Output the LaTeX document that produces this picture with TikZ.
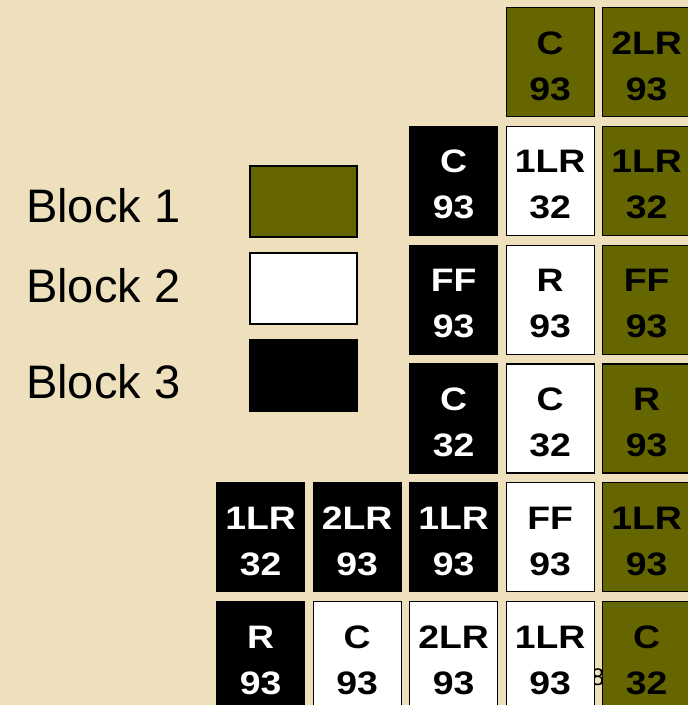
\documentclass[tikz,border=0pt]{standalone}
\usepackage{fontspec}
\setmainfont{Liberation Sans}
\newfontfamily\cellfont[FakeStretch=1.15]{Liberation Sans}
\definecolor{parchment}{RGB}{239,224,189}
\definecolor{blockolive}{RGB}{102,102,0}
\tikzset{
  cell/.style={minimum width=88pt,minimum height=109pt,inner sep=0pt,anchor=north west,line width=1.2pt,draw=black},
  block1/.style={cell,fill=blockolive},
  block2/.style={cell,fill=white},
  block3/.style={cell,fill=black},
  celltext/.style={font=\cellfont\bfseries\fontsize{32.5}{40}\selectfont,anchor=base,inner sep=0pt},
  txt1/.style={text=black},
  txt2/.style={text=black},
  txt3/.style={text=white},
  keybox/.style={minimum width=107pt,minimum height=71pt,inner sep=0pt,anchor=north west,line width=1.5pt,draw=black}
}
\begin{document}
\begin{tikzpicture}[x=1pt,y=-1pt]
  \useasboundingbox (0,0) rectangle (688,705);
  \fill[parchment] (0,0) rectangle (688,705);
  \clip (0,0) rectangle (688,705);
  \foreach \k/\ytop/\ybase/\col in {1/165/222/blockolive,2/252/302/white,3/339/398/black}{
    \node[anchor=base west,inner sep=0pt,font=\fontsize{47}{47}\selectfont] (label\k) at (26,\ybase) {Block \k};
    \node[keybox,fill=\col] (key\k) at (249,\ytop) {};
  }
  \node[anchor=base west,inner sep=0pt,font=\fontsize{24}{24}\selectfont] (slideno) at (591,685) {8};
  \foreach \c/\r/\kind/\top/\bot in {
      4/1/1/C/93, 5/1/1/2LR/93,
      3/2/3/C/93, 4/2/2/1LR/32, 5/2/1/1LR/32,
      3/3/3/FF/93, 4/3/2/R/93, 5/3/1/FF/93,
      3/4/3/C/32, 4/4/2/C/32, 5/4/1/R/93,
      1/5/3/1LR/32, 2/5/3/2LR/93, 3/5/3/1LR/93, 4/5/2/FF/93, 5/5/1/1LR/93,
      1/6/3/R/93, 2/6/2/C/93, 3/6/2/2LR/93, 4/6/2/1LR/93, 5/6/1/C/32}{
    \node[block\kind] (cell-\c-\r) at ({216+96.5*(\c-1)},{7+118.8*(\r-1)}) {};
    \node[celltext,txt\kind] (top-\c-\r) at ([yshift=-47pt]cell-\c-\r.north) {\top};
    \node[celltext,txt\kind] (bot-\c-\r) at ([yshift=-93pt]cell-\c-\r.north) {\bot};
  }
\end{tikzpicture}
\end{document}
